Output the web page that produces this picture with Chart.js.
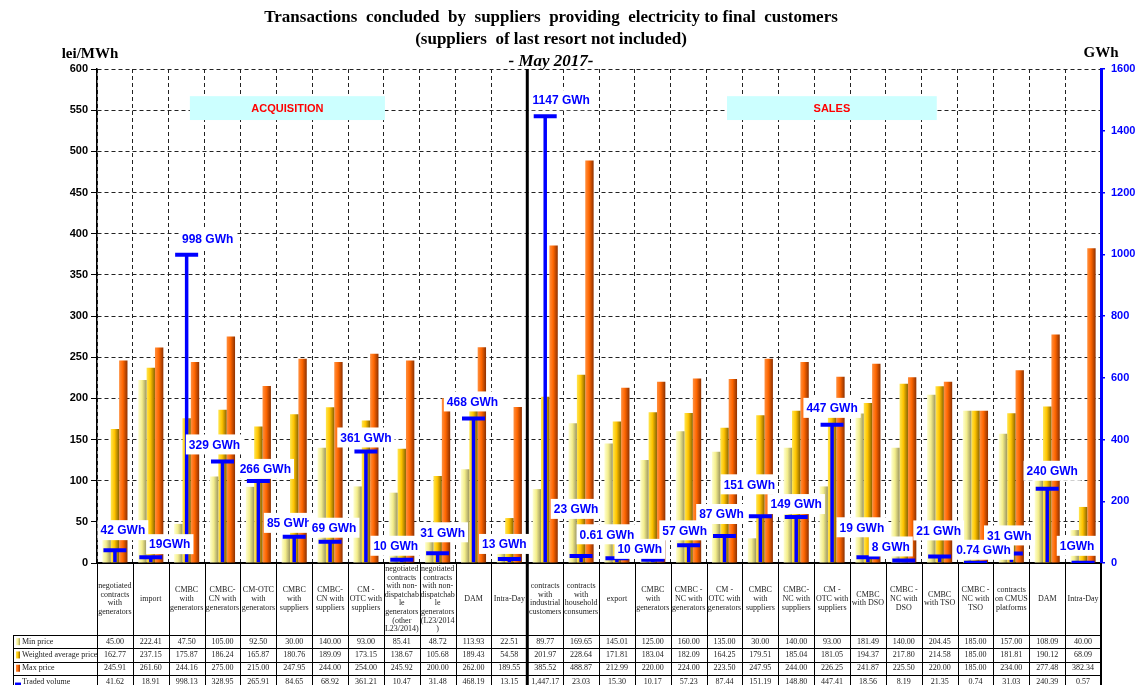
<!DOCTYPE html>
<html>
<head>
<meta charset="utf-8">
<title>Transactions concluded by suppliers - May 2017</title>
<script src="https://cdn.jsdelivr.net/npm/chart.js@4.4.0/dist/chart.umd.min.js"></script>
<style>
    html, body { margin: 0; padding: 0; background: #fff; }
    #wrap { width: 1139px; height: 685px; }
</style>
</head>
<body>
<div id="wrap"><canvas id="chartTranzactii" width="1139" height="685"></canvas></div>
<script>
// categories: first 12 are acquisition, the rest are sales
const categories = [
    ["negotiated", "contracts", "with", "generators"],
    ["import"],
    ["CMBC", "with", "generators"],
    ["CMBC-", "CN with", "generators"],
    ["CM-OTC", "with", "generators"],
    ["CMBC", "with", "suppliers"],
    ["CMBC-", "CN with", "suppliers"],
    ["CM -", "OTC with", "suppliers"],
    ["negotiated", "contracts", "with non-", "dispatchab", "le", "generators", "(other", "L23/2014)"],
    ["negotiated", "contracts", "with non-", "dispatchab", "le", "generators", "(L23/2014", ")"],
    ["DAM"],
    ["Intra-Day"],
    ["contracts", "with", "industrial", "customers"],
    ["contracts", "with", "household", "consumers"],
    ["export"],
    ["CMBC", "with", "generators"],
    ["CMBC -", "NC with", "generators"],
    ["CM -", "OTC with", "generators"],
    ["CMBC", "with", "suppliers"],
    ["CMBC-", "NC with", "suppliers"],
    ["CM -", "OTC with", "suppliers"],
    ["CMBC", "with DSO"],
    ["CMBC -", "NC with", "DSO"],
    ["CMBC", "with TSO"],
    ["CMBC -", "NC with", "TSO"],
    ["contracts", "on CMUS", "platforms"],
    ["DAM"],
    ["Intra-Day"]
];
const salesStart = 12;

const minPrice = [45.00, 222.41, 47.50, 105.00, 92.50, 30.00, 140.00, 93.00, 85.41, 48.72, 113.93, 22.51,
    89.77, 169.65, 145.01, 125.00, 160.00, 135.00, 30.00, 140.00, 93.00, 181.49, 140.00, 204.45, 185.00, 157.00, 108.09, 40.00];
const avgPrice = [162.77, 237.15, 175.87, 186.24, 165.87, 180.76, 189.09, 173.15, 138.67, 105.68, 189.43, 54.58,
    201.97, 228.64, 171.81, 183.04, 182.09, 164.25, 179.51, 185.04, 181.05, 194.37, 217.80, 214.58, 185.00, 181.81, 190.12, 68.09];
const maxPrice = [245.91, 261.60, 244.16, 275.00, 215.00, 247.95, 244.00, 254.00, 245.92, 200.00, 262.00, 189.55,
    385.52, 488.87, 212.99, 220.00, 224.00, 223.50, 247.95, 244.00, 226.25, 241.87, 225.50, 220.00, 185.00, 234.00, 277.48, 382.34];
const tradedVolume = [41.62, 18.91, 998.13, 328.95, 265.91, 84.65, 68.92, 361.21, 10.47, 31.48, 468.19, 13.15,
    1447.17, 23.03, 15.30, 10.17, 57.23, 87.44, 151.19, 148.80, 447.41, 18.56, 8.19, 21.35, 0.74, 31.03, 240.39, 0.57];
// labels as written on the original chart
const volumeLabels = ["42 GWh", "19GWh", "998 GWh", "329 GWh", "266 GWh", "85 GWh", "69 GWh", "361 GWh", "10 GWh", "31 GWh", "468 GWh", "13 GWh",
    "1147 GWh", "23 GWh", "0.61 GWh", "10 GWh", "57 GWh", "87 GWh", "151 GWh", "149 GWh", "447 GWh", "19 GWh", "8 GWh", "21 GWh", "0.74 GWh", "31 GWh", "240 GWh", "1GWh"];

const priceAxis = { min: 0, max: 600, step: 50 };
const volumeAxis = { min: 0, max: 1600, step: 200 };

// hand nudges of the volume labels (px), as placed in the original
const labelShift = [[8, -3], [19, 4], [21, 1], [-8, 0], [7, 5], [-5, 3], [4, 3], [0, 3], [-6, 3], [5, -4], [-1, 0], [-5, 2],
    [16, 1], [-5, -30], [-10, -7], [-13, 6], [-4, 2], [-3, -5], [-11, -15], [0, 4], [0, 0], [-6, -13], [-13, 3], [-1, -9],
    [8, 4], [-2, -1], [5, -1], [-6, 0]];

const CAT_PCT = 0.7;
const SANS = "'Liberation Sans', Arial, sans-serif";
const SERIF = "'Liberation Serif', 'Times New Roman', serif";
const BLUE = "#0000ff";

const colMin = ["#ffffd0", "#f4ee8c", "#9c9660"];
const colAvg = ["#ffe650", "#ffc400", "#8a6200"];
const colMax = ["#ff9040", "#ff6600", "#8c3000"];

function cylinder(stops, slot) {
    return function(context) {
        const chart = context.chart;
        const xs = chart.scales.x;
        if (!xs || context.dataIndex === undefined) return stops[1];
        const cw = xs.width / chart.data.labels.length;
        const w = cw * CAT_PCT / 3;
        const cx = xs.getPixelForValue(context.dataIndex) + (slot - 1) * w;
        if (!isFinite(cx) || !isFinite(w) || w <= 0) return stops[1];
        const g = chart.ctx.createLinearGradient(cx - w / 2, 0, cx + w / 2, 0);
        g.addColorStop(0, stops[0]);
        g.addColorStop(0.45, stops[1]);
        g.addColorStop(1, stops[2]);
        return g;
    };
}

function fmt(v) {
    return v.toLocaleString("en-US", { minimumFractionDigits: 2, maximumFractionDigits: 2 });
}

// titles, axis units, ACQUISITION / SALES boxes, divider
const decorPlugin = {
    id: "decor",
    beforeDatasetsDraw(chart) {
        const { ctx, chartArea, scales: { x, y } } = chart;
        ctx.save();
        const boxes = [
            { text: "ACQUISITION", from: 2.09, to: 7.53 },
            { text: "SALES", from: 17.07, to: 22.92 }
        ];
        boxes.forEach(b => {
            const x1 = x.getPixelForValue(b.from);
            const x2 = x.getPixelForValue(b.to);
            const y1 = y.getPixelForValue(567);
            const y2 = y.getPixelForValue(538);
            ctx.fillStyle = "#ccffff";
            ctx.fillRect(x1, y1, x2 - x1, y2 - y1);
            ctx.fillStyle = "#ff0000";
            ctx.font = "bold 11px " + SANS;
            ctx.textAlign = "center";
            ctx.textBaseline = "middle";
            ctx.fillText(b.text, (x1 + x2) / 2, (y1 + y2) / 2 + 1);
        });
        const dx = x.getPixelForValue(salesStart - 0.5);
        ctx.strokeStyle = "#000";
        ctx.lineWidth = 3;
        ctx.beginPath();
        ctx.moveTo(dx, chartArea.top);
        ctx.lineTo(dx, chart.height);
        ctx.stroke();
        ctx.restore();
    },
    afterDraw(chart) {
        const { ctx, chartArea } = chart;
        ctx.save();
        ctx.fillStyle = "#000";
        ctx.textAlign = "center";
        ctx.textBaseline = "middle";
        ctx.font = "bold 17px " + SERIF;
        ctx.fillText("Transactions  concluded  by  suppliers  providing  electricity to final  customers", 551, 18);
        ctx.fillText("(suppliers  of last resort not included)", 551, 40);
        ctx.font = "italic bold 17px " + SERIF;
        ctx.fillText("- May 2017-", 551, 62);
        ctx.font = "bold 15px " + SERIF;
        ctx.fillText("lei/MWh", 90, 54);
        ctx.fillText("GWh", chartArea.right, 53);
        ctx.restore();
    }
};

// white boxes with the traded volume
const volumeLabelPlugin = {
    id: "volumeLabels",
    afterDatasetsDraw(chart) {
        const { ctx, scales: { x, y1 } } = chart;
        ctx.save();
        ctx.font = "bold 12px " + SANS;
        ctx.textAlign = "center";
        ctx.textBaseline = "middle";
        tradedVolume.forEach((v, i) => {
            const px = x.getPixelForValue(i) + labelShift[i][0];
            const py = y1.getPixelForValue(v) - 17 + labelShift[i][1];
            const w = ctx.measureText(volumeLabels[i]).width + 6;
            ctx.fillStyle = "#fff";
            ctx.fillRect(px - w / 2, py - 10, w, 20);
            ctx.fillStyle = BLUE;
            ctx.fillText(volumeLabels[i], px, py + 1);
        });
        ctx.restore();
    }
};

// data table under the plot
const tablePlugin = {
    id: "dataTable",
    afterDraw(chart) {
        const { ctx, chartArea } = chart;
        const n = chart.data.labels.length;
        const left = chartArea.left;
        const right = chartArea.right;
        const cw = (right - left) / n;
        const top = chartArea.bottom;
        const headBottom = top + 72;
        const rowH = 13.3;
        const tableLeft = 13;
        const rows = [
            { label: "Min price", values: minPrice, swatch: colMin },
            { label: "Weighted average price", values: avgPrice, swatch: colAvg },
            { label: "Max price", values: maxPrice, swatch: colMax },
            { label: "Traded volume", values: tradedVolume, swatch: null }
        ];
        const bottom = headBottom + rowH * rows.length;

        ctx.save();
        ctx.strokeStyle = "#000";
        ctx.lineWidth = 1;
        ctx.beginPath();
        for (let k = 0; k <= n; k++) {
            const lx = Math.round(left + k * cw) + 0.5;
            ctx.moveTo(lx, top);
            ctx.lineTo(lx, bottom);
        }
        ctx.moveTo(tableLeft + 0.5, headBottom);
        ctx.lineTo(tableLeft + 0.5, bottom);
        for (let r = 0; r <= rows.length; r++) {
            const ly = Math.round(headBottom + r * rowH) + 0.5;
            ctx.moveTo(tableLeft, ly);
            ctx.lineTo(right, ly);
        }
        ctx.stroke();
        ctx.lineWidth = 2;
        ctx.beginPath();
        ctx.moveTo(right, top);
        ctx.lineTo(right, bottom);
        ctx.stroke();

        // category names
        ctx.fillStyle = "#222";
        ctx.textAlign = "center";
        ctx.textBaseline = "middle";
        ctx.font = "8px " + SERIF;
        const lh = 8.6;
        chart.data.labels.forEach((lines, i) => {
            const cx = left + (i + 0.5) * cw;
            const cy = (top + headBottom) / 2;
            const y0 = cy - (lines.length - 1) * lh / 2;
            lines.forEach((t, j) => ctx.fillText(t, cx, y0 + j * lh));
        });

        // rows
        rows.forEach((row, r) => {
            const cy = headBottom + (r + 0.5) * rowH;
            if (row.swatch) {
                const g = ctx.createLinearGradient(16, 0, 20, 0);
                g.addColorStop(0, row.swatch[0]);
                g.addColorStop(0.5, row.swatch[1]);
                g.addColorStop(1, row.swatch[2]);
                ctx.fillStyle = g;
                ctx.fillRect(16, cy - 3.5, 4, 7);
            } else {
                ctx.fillStyle = BLUE;
                ctx.fillRect(15, cy + 1, 6, 3);
            }
            ctx.fillStyle = "#222";
            ctx.textAlign = "left";
            ctx.font = "8px " + SERIF;
            ctx.fillText(row.label, 22, cy);
            ctx.textAlign = "center";
            row.values.forEach((v, i) => {
                ctx.fillText(fmt(v), left + (i + 0.5) * cw, cy);
            });
        });
        ctx.restore();
    }
};

document.addEventListener("DOMContentLoaded", () => {
    const ctx = document.getElementById("chartTranzactii");

    const data = {
        labels: categories,
        datasets: [
            {
                type: "line",
                label: "Traded volume cap",
                data: tradedVolume,
                yAxisID: "y1",
                showLine: false,
                pointStyle: "line",
                pointRadius: 11.5,
                pointHoverRadius: 11.5,
                pointBorderWidth: 4,
                borderColor: BLUE,
                backgroundColor: BLUE,
                order: 0
            },
            {
                type: "bar",
                label: "Traded volume",
                data: tradedVolume,
                yAxisID: "y1",
                grouped: false,
                maxBarThickness: 3.5,
                backgroundColor: BLUE,
                order: 1
            },
            {
                type: "bar",
                label: "Min price",
                data: minPrice,
                yAxisID: "y",
                backgroundColor: cylinder(colMin, 0),
                categoryPercentage: CAT_PCT,
                barPercentage: 1,
                order: 2
            },
            {
                type: "bar",
                label: "Weighted average price",
                data: avgPrice,
                yAxisID: "y",
                backgroundColor: cylinder(colAvg, 1),
                categoryPercentage: CAT_PCT,
                barPercentage: 1,
                order: 2
            },
            {
                type: "bar",
                label: "Max price",
                data: maxPrice,
                yAxisID: "y",
                backgroundColor: cylinder(colMax, 2),
                categoryPercentage: CAT_PCT,
                barPercentage: 1,
                order: 2
            }
        ]
    };

    const options = {
        responsive: false,
        animation: false,
        events: [],
        layout: { padding: { top: 69, left: 0, right: 0, bottom: 0 } },
        plugins: {
            legend: { display: false },
            tooltip: { enabled: false },
            title: { display: false }
        },
        scales: {
            x: {
                offset: true,
                ticks: { display: false },
                grid: { color: "#222", lineWidth: 1, drawTicks: false, offset: true },
                border: { color: "#000", width: 2, dash: [4, 3] },
                afterFit: s => { s.height = 122; }
            },
            y: {
                position: "left",
                min: priceAxis.min,
                max: priceAxis.max,
                ticks: {
                    stepSize: priceAxis.step,
                    color: "#000",
                    padding: 3,
                    font: { family: SANS, weight: "bold", size: 11 }
                },
                grid: { color: "#222", lineWidth: 1, tickColor: "#000", tickLength: 6, tickBorderDash: [] },
                border: { color: "#000", width: 1.5, dash: [4, 3] },
                afterFit: s => { s.width = 97; }
            },
            y1: {
                position: "right",
                min: volumeAxis.min,
                max: volumeAxis.max,
                ticks: {
                    stepSize: volumeAxis.step,
                    color: BLUE,
                    padding: 6,
                    font: { family: SANS, weight: "bold", size: 11 },
                    callback: value => String(value)
                },
                grid: { drawOnChartArea: false, color: BLUE, tickLength: 4, lineWidth: 1.5 },
                border: { color: BLUE, width: 3 },
                afterFit: s => { s.width = 38; }
            }
        }
    };

    new Chart(ctx, {
        type: "bar",
        data: data,
        options: options,
        plugins: [decorPlugin, volumeLabelPlugin, tablePlugin]
    });
});
</script>
</body>
</html>
